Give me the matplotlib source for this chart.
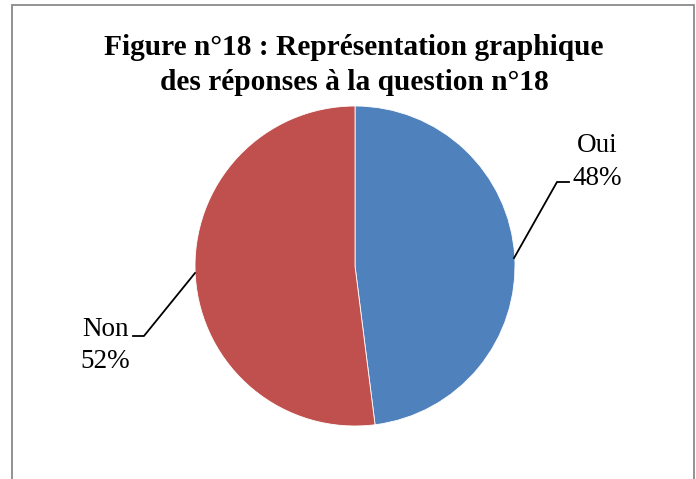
import matplotlib
matplotlib.use("Agg")
import matplotlib.pyplot as plt
from matplotlib.patches import Rectangle

categories = ["Oui", "Non"]
percentages = [48, 52]
colors = ["#4F81BD", "#C0504D"]
title = "Figure n°18 : Représentation graphique\ndes réponses à la question n°18"

plt.rcParams['font.family'] = ['Liberation Serif', 'DejaVu Serif']

W, H = 696, 479
fig = plt.figure(figsize=(W / 100, H / 100), dpi=100)
fig.patch.set_facecolor("white")

# outer border
fig.patches.append(Rectangle((12 / W, -0.05), (694 - 12) / W, 1.05 - 5 / H,
                             transform=fig.transFigure, fill=False,
                             edgecolor="#8a8a8a", linewidth=1.3))

cx, cy, r = 355, 266, 160
ax = fig.add_axes([(cx - r) / W, (H - cy - r) / H, 2 * r / W, 2 * r / H])
ax.pie(percentages, colors=colors, startangle=90, counterclock=False,
       radius=1, wedgeprops=dict(edgecolor="white", linewidth=0.6))
ax.set_xlim(-1, 1)
ax.set_ylim(-1, 1)
ax.set_aspect("equal")
ax.axis("off")

fig.text(354 / W, 1 - 65 / H, title, ha="center", va="center",
         fontsize=21.2, fontweight="bold", linespacing=1.38)

# leader lines and labels
ax.plot([0.994, 1.2625, 1.3375], [0.05, 0.525, 0.525], color="black",
        lw=1.3, clip_on=False)
ax.text(1.5125, 0.65, f"{categories[0]}\n{percentages[0]}%", ha="center",
        va="center", fontsize=19.5, linespacing=1.4)

ax.plot([-1.0, -1.319, -1.3875], [-0.044, -0.4375, -0.4375], color="black",
        lw=1.3, clip_on=False)
ax.text(-1.559, -0.495, f"{categories[1]}\n{percentages[1]}%", ha="center",
        va="center", fontsize=19.5, linespacing=1.35)

fig.savefig("out.png", dpi=100, facecolor="white")
